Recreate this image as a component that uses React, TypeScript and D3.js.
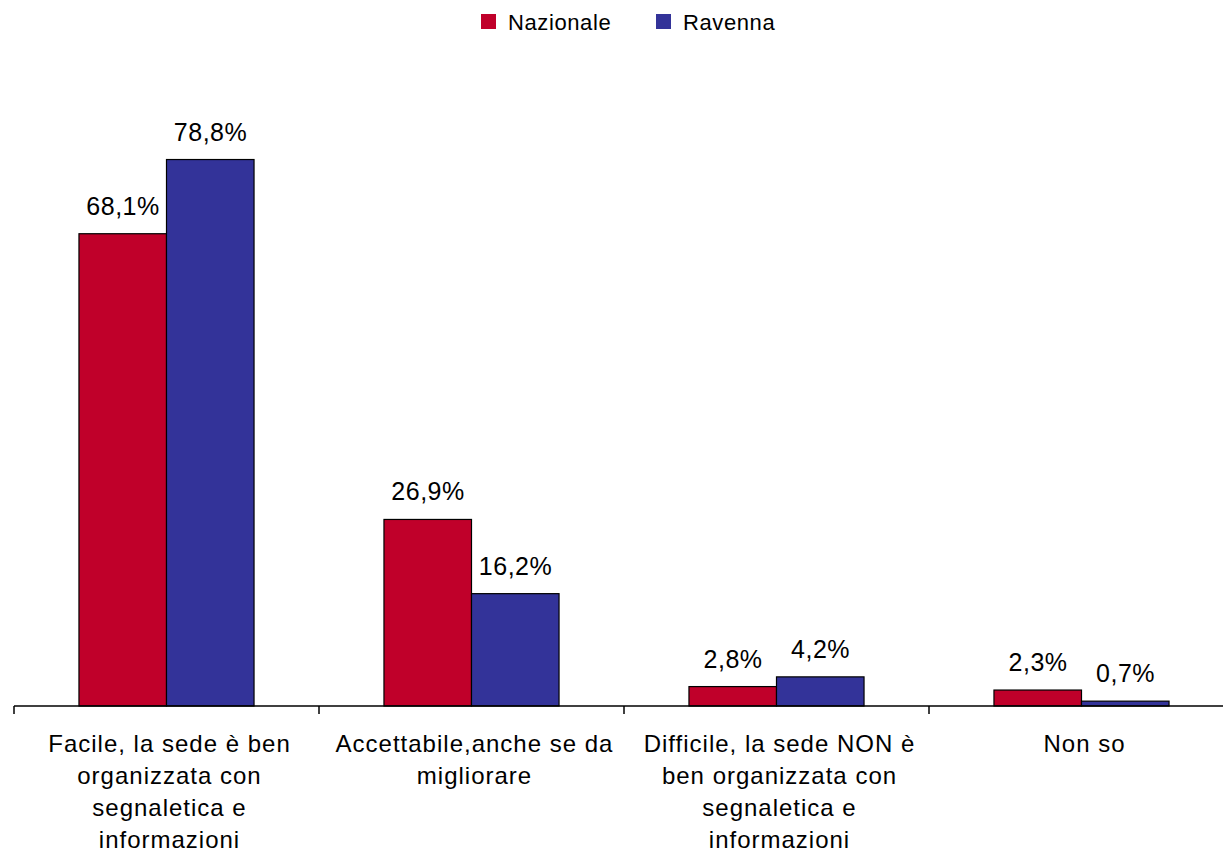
import React from "react";
import * as d3 from "d3";

const categories = [
  "Facile, la sede è ben organizzata con segnaletica e informazioni",
  "Accettabile,anche se da migliorare",
  "Difficile, la sede NON è ben organizzata con segnaletica e informazioni",
  "Non so",
];
const categoryLines = [
  ["Facile, la sede è ben", "organizzata con", "segnaletica e", "informazioni"],
  ["Accettabile,anche se da", "migliorare"],
  ["Difficile, la sede NON è", "ben organizzata con", "segnaletica e", "informazioni"],
  ["Non so"],
];
const seriesNames = ["Nazionale", "Ravenna"];
const nazionale = [68.1, 26.9, 2.8, 2.3];
const ravenna = [78.8, 16.2, 4.2, 0.7];
const colors = ["#C0002A", "#333399"];

const W = 1223;
const H = 858;
const FONT = "'Liberation Sans', Arial, sans-serif";

export default function App() {
  const baseY = 706;
  const x0 = d3.scaleBand<string>().domain(categories).range([14, 1234]).padding(0);
  const bw = x0.bandwidth();
  const x1 = d3.scaleBand<string>().domain(seriesNames).range([bw * 0.213, bw * 0.787]).padding(0);
  const y = d3.scaleLinear().domain([0, 90]).range([baseY, baseY - 90 * 6.935]);
  const values = [nazionale, ravenna];
  const fmt = (v: number) => v.toFixed(1).replace(".", ",") + "%";

  return (
    <svg width={W} height={H} style={{ position: "absolute", left: 0, top: 0, background: "#fff" }} fontFamily={FONT}>
      {/* legend */}
      {seriesNames.map((s, i) => {
        const lx = i === 0 ? 481 : 656;
        return (
          <g key={s}>
            <rect x={lx} y={14} width={15} height={15} fill={colors[i]} />
            <text x={lx + 27} y={30} fontSize={22} letterSpacing={0.6} fill="#000">{s}</text>
          </g>
        );
      })}
      {/* bars */}
      {categories.map((c, ci) => (
        <g key={c}>
          {seriesNames.map((s, si) => {
            const v = values[si][ci];
            const bx = (x0(c) ?? 0) + (x1(s) ?? 0);
            const by = y(v);
            return (
              <g key={s}>
                <rect x={bx} y={by} width={x1.bandwidth()} height={baseY - by} fill={colors[si]} stroke="#000" strokeWidth={1.2} />
                <text x={bx + x1.bandwidth() / 2 + 0.3} y={by - 19} textAnchor="middle" fontSize={25} letterSpacing={0.5} fill="#000">{fmt(v)}</text>
              </g>
            );
          })}
        </g>
      ))}
      {/* axis */}
      <line x1={14} x2={1234} y1={baseY} y2={baseY} stroke="#000" strokeWidth={1.5} />
      {categories.map((c) => (
        <line key={"t" + c} x1={x0(c)} x2={x0(c)} y1={baseY} y2={baseY + 8} stroke="#000" strokeWidth={1.5} />
      ))}
      {categories.map((c, ci) => (
        <text key={"l" + c} x={(x0(c) ?? 0) + bw / 2 + 3} y={752} textAnchor="middle" fontSize={24} letterSpacing={1} fill="#000">
          {categoryLines[ci].map((ln, li) => (
            <tspan key={li} x={(x0(c) ?? 0) + bw / 2 + 3} dy={li === 0 ? 0 : 32}>{ln}</tspan>
          ))}
        </text>
      ))}
    </svg>
  );
}
